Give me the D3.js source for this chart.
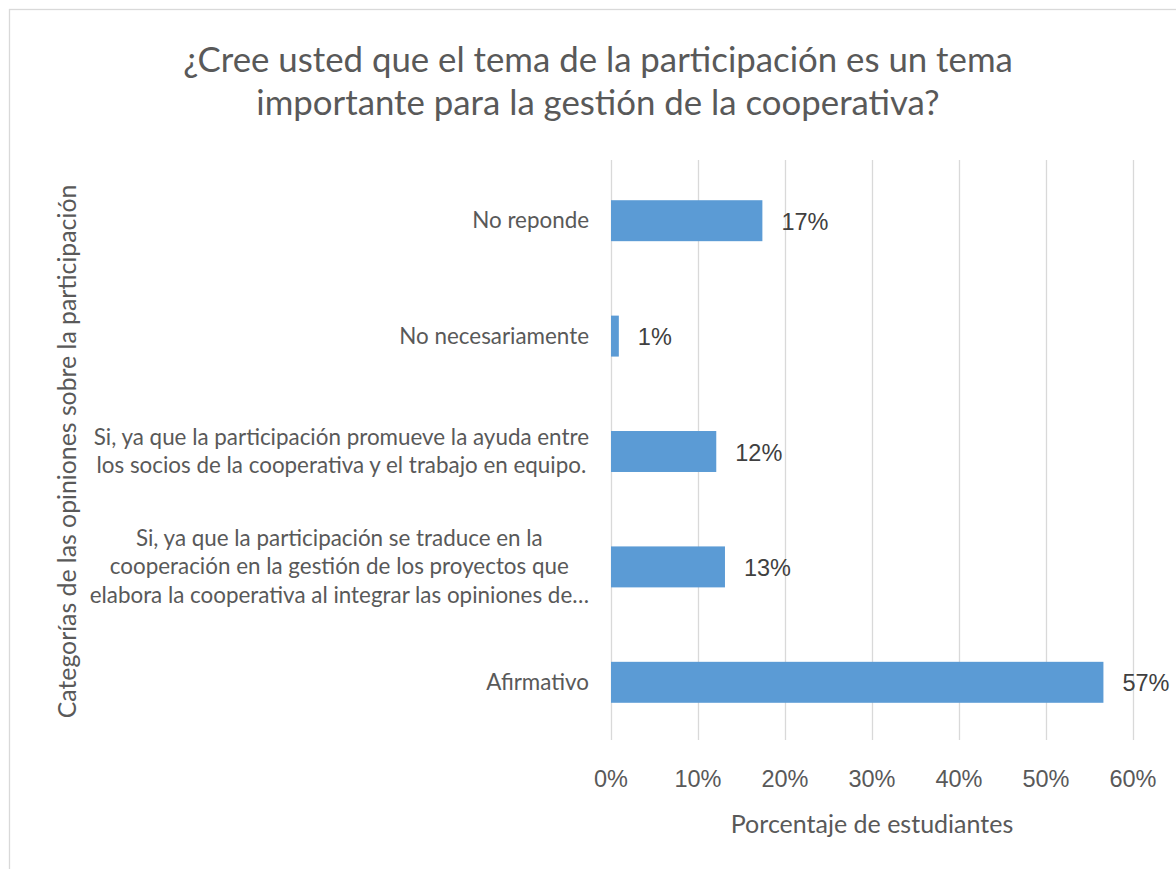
<!DOCTYPE html>
<html lang="es">
<head>
<meta charset="UTF-8">
<title>Participación</title>
<script src="https://cdn.jsdelivr.net/npm/d3@7"></script>
<style>
    body { margin: 0; background: #fff; }
    svg { display: block; }
    .calib { font-family: "Lato", "Open Sans", sans-serif; fill: #595959; }
    .arial { font-family: "Liberation Sans", Arial, sans-serif; fill: #595959; }
    .grid line { stroke: #d9d9d9; stroke-width: 1.3; }
    .grid path { display: none; }
</style>
</head>
<body>
<svg width="1176" height="869"></svg>
<script>
// categories, top to bottom, each split into its label lines
var categories = ["No reponde", "No necesariamente", "Si promueve", "Si traduce", "Afirmativo"];
var labelLines = [
    ["No reponde"],
    ["No necesariamente"],
    ["Si, ya que la participación promueve la ayuda entre",
     "los socios de la cooperativa y el trabajo en equipo."],
    ["Si, ya que la participación se traduce en la",
     "cooperación en la gestión de los proyectos que",
     "elabora la cooperativa al integrar las opiniones de…"],
    ["Afirmativo"]
];
var values = [17.4, 0.9, 12.1, 13.1, 56.6];   // % de estudiantes
var xTicks = [0, 10, 20, 30, 40, 50, 60];

var svg = d3.select("svg");

// chart area border
svg.append("rect")
    .attr("x", 9.5).attr("y", 9.5)
    .attr("width", 1200).attr("height", 900)
    .attr("fill", "none").attr("stroke", "#d9d9d9").attr("stroke-width", 1.3);

var pLeft = 611, pRight = 1133, pTop = 163, pBottom = 740;

var x = d3.scaleLinear().domain([0, 60]).range([pLeft, pRight]);
var y = d3.scaleBand().domain(categories).range([pTop, pBottom])
    .paddingInner(0.645).paddingOuter(0.3225);

// vertical gridlines
svg.append("g")
    .attr("class", "grid")
    .attr("transform", "translate(0," + pBottom + ")")
    .call(d3.axisBottom(x).tickValues(xTicks).tickSize(-(pBottom - pTop + 3)).tickFormat(""));

// x tick labels
svg.append("g").selectAll("text")
    .data(xTicks).enter().append("text")
    .attr("class", "arial")
    .attr("x", function (d) { return x(d); })
    .attr("y", 787)
    .attr("text-anchor", "middle")
    .style("font-size", "23.5px")
    .text(function (d) { return d + "%"; });

// bars
svg.selectAll(".bar")
    .data(values).enter().append("rect")
    .attr("class", "bar")
    .attr("x", x(0))
    .attr("y", function (d, i) { return y(categories[i]); })
    .attr("width", function (d) { return x(d) - x(0); })
    .attr("height", y.bandwidth())
    .attr("fill", "#5b9bd5");

// data labels
svg.selectAll(".lbl")
    .data(values).enter().append("text")
    .attr("class", "lbl arial")
    .attr("x", function (d) { return x(d) + 19; })
    .attr("y", function (d, i) { return y(categories[i]) + y.bandwidth() / 2 + 9; })
    .style("font-size", "23.5px")
    .style("fill", "#404040")
    .text(function (d) { return Math.round(d) + "%"; });

// category labels: block right-aligned, lines centred inside it
var lineH = 28.5;
labelLines.forEach(function (lines, i) {
    var g = svg.append("g");
    var cy = y(categories[i]) + y.bandwidth() / 2;
    var ts = g.selectAll("text").data(lines).enter().append("text")
        .attr("class", "calib")
        .style("font-size", "22.4px")
        .attr("text-anchor", "middle")
        .attr("y", function (d, j) { return cy + (j - (lines.length - 1) / 2) * lineH + 7.5; })
        .text(function (d) { return d; });
    var maxW = d3.max(ts.nodes(), function (n) { return n.getComputedTextLength(); });
    ts.attr("x", 589 - maxW / 2);
});

// title
svg.append("text")
    .attr("class", "calib")
    .attr("text-anchor", "middle")
    .style("font-size", "34.8px")
    .selectAll("tspan")
    .data(["¿Cree usted que el tema de la participación es un tema",
           "importante para la gestión de la cooperativa?"])
    .enter().append("tspan")
    .attr("x", 598)
    .attr("y", function (d, i) { return 72 + i * 43; })
    .text(function (d) { return d; });

// axis titles
svg.append("text")
    .attr("class", "calib")
    .attr("text-anchor", "middle")
    .attr("x", (pLeft + pRight) / 2)
    .attr("y", 833)
    .style("font-size", "25px")
    .text("Porcentaje de estudiantes");

svg.append("text")
    .attr("class", "calib")
    .attr("text-anchor", "middle")
    .attr("transform", "translate(76," + ((pTop + pBottom) / 2) + ") rotate(-90)")
    .style("font-size", "24.8px")
    .text("Categorías de las opiniones sobre la participación");
</script>
</body>
</html>
